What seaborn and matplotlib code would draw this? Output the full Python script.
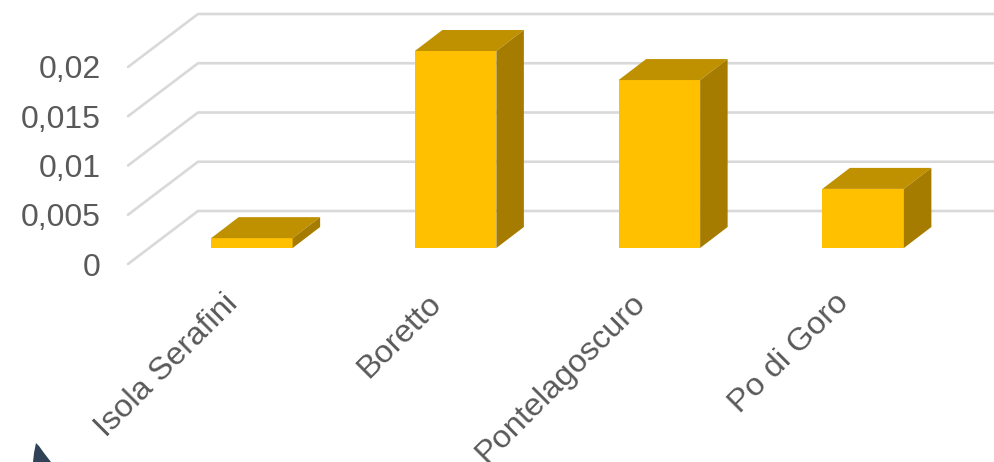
import matplotlib
matplotlib.use("Agg")
import matplotlib.pyplot as plt
from matplotlib.patches import Polygon
from matplotlib.transforms import ScaledTranslation
import pandas as pd
import seaborn as sns

stations = ["Isola Serafini", "Boretto", "Pontelagoscuro", "Po di Goro"]
values = [0.001, 0.02, 0.01705, 0.006]
y_ticks = [0, 0.005, 0.01, 0.015, 0.02]
y_tick_labels = ["0", "0,005", "0,01", "0,015", "0,02"]

W, H = 994, 462
FRONT, TOP, SIDE = "#FFC000", "#BF9000", "#A67C00"
GRID = "#D9D9D9"
TEXT = "#595959"
UNIT = 49.25 / 0.005  # pixels per value unit


def px_axes(fig, left, top, right, bottom):
    """Add a transparent axes placed by pixel edges."""
    ax = fig.add_axes([left / W, 1 - bottom / H, (right - left) / W, (bottom - top) / H])
    ax.patch.set_alpha(0)
    for s in ax.spines.values():
        s.set_visible(False)
    return ax


sns.set_theme(style="white")
plt.rcParams["font.family"] = ["Liberation Sans", "DejaVu Sans"]
fig = plt.figure(figsize=(W / 100, H / 100), dpi=100, facecolor="white")

# Value axis and the floor/back-wall grid, on the front plane of the box
ax_grid = px_axes(fig, 128, 14, 994, 264)
ax_grid.set_xlim(0, 994 - 128)
ax_grid.set_ylim(0, (264 - 14) / UNIT)
ax_grid.set_xticks([])
ax_grid.set_yticks(y_ticks, y_tick_labels)
ax_grid.tick_params(axis="y", length=0, pad=19.5, labelsize=23, labelcolor=TEXT)
wall_dx, wall_dy = 70, 53 / UNIT
for v in y_ticks:
    ax_grid.plot([0, wall_dx, 994 - 128], [v, v + wall_dy, v + wall_dy],
                 color=GRID, lw=1.9, clip_on=False, solid_joinstyle="miter")

# Bars on their own category scale, standing in the middle of the box depth
ax = px_axes(fig, 150, 0, 965, 248)
df = pd.DataFrame({"station": stations, "value": values})
sns.barplot(data=df, x="station", y="value", color=FRONT, saturation=1,
            width=0.4, ax=ax, zorder=3, linewidth=0)
ax.set_xlim(-0.5, 3.5)
ax.set_ylim(0, 248 / UNIT)
ax.set_xlabel("")
ax.set_ylabel("")
ax.set_yticks([])

# Extrude every bar with a top and a side face
dx, dy = 27.5 / 203.7, 21 / UNIT
half = 0.2
for i, v in enumerate(values):
    ax.add_patch(Polygon([(i - half, v), (i + half, v), (i + half + dx, v + dy), (i - half + dx, v + dy)],
                         closed=True, fc=TOP, ec="none", zorder=3, clip_on=False))
    ax.add_patch(Polygon([(i + half, 0), (i + half + dx, dy), (i + half + dx, v + dy), (i + half, v)],
                         closed=True, fc=SIDE, ec="none", zorder=3, clip_on=False))

ax.set_xticks(range(len(stations)), stations)
ax.tick_params(axis="x", length=0, pad=29, labelsize=23.4, labelcolor=TEXT)
label_shift = ScaledTranslation(-0.29, 0.0, fig.dpi_scale_trans)
for lab in ax.get_xticklabels():
    lab.set_rotation(45)
    lab.set_ha("right")
    lab.set_rotation_mode("anchor")
    lab.set_transform(lab.get_transform() + label_shift)

# Dark shape entering at the lower-left edge
fig.add_artist(Polygon(
    [(33 / W, 0), (34 / W, 9 / H), (36 / W, 19 / H), (39 / W, 16 / H), (44 / W, 9 / H), (51 / W, 0)],
    closed=True, fc="#2F4256", ec="none", transform=fig.transFigure))

fig.savefig("out.png", dpi=100)
